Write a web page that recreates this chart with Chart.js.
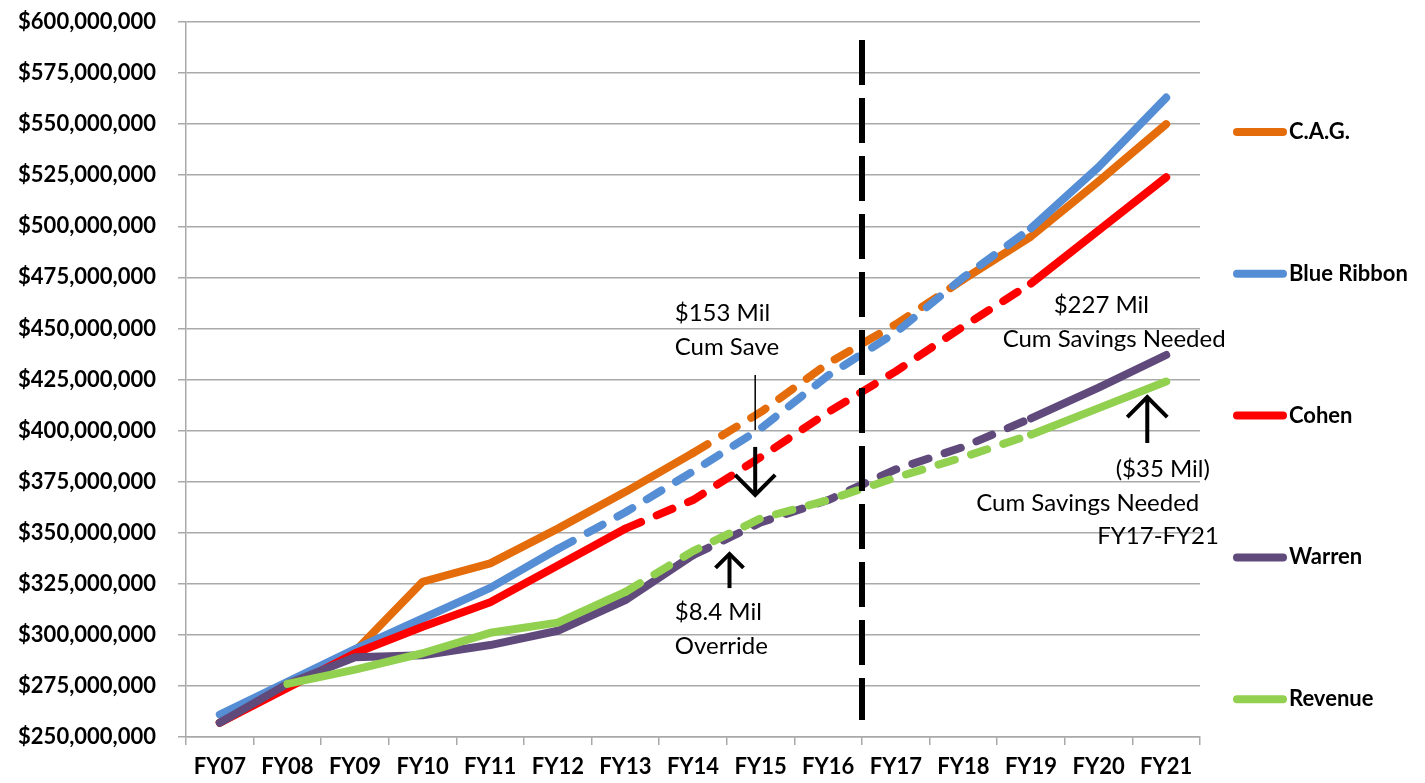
<!DOCTYPE html>
<html>
<head>
<meta charset="utf-8">
<title>Budget projections FY07-FY21</title>
<script src="https://cdn.jsdelivr.net/npm/chart.js@4.4.1/dist/chart.umd.min.js"></script>
<style>
  body { margin: 0; background: #fff; }
</style>
</head>
<body>
<canvas id="myChart" width="1425" height="783"></canvas>
<script>
// Fiscal years
const years = ['FY07', 'FY08', 'FY09', 'FY10', 'FY11', 'FY12', 'FY13', 'FY14',
               'FY15', 'FY16', 'FY17', 'FY18', 'FY19', 'FY20', 'FY21'];

// Projections, in millions of dollars
const cag        = [257, 275, 292, 326, 335, 352, 370, 389, 409, 433, 452, 474, 495, 522, 550];
const blueRibbon = [261, 277, 293, 308, 323, 342, 360, 380, 401, 427, 448, 475, 499, 529, 563];
const cohen      = [257, 274, 291, 304, 316, 334, 352, 366, 387, 409, 429, 451, 472, 498, 524];
const warren     = [257, 276, 289, 290, 295, 302, 317, 339, 355, 366, 381, 392, 406, 421, 437];
const revenue    = [null, 276, 283, 291, 301, 306, 321, 341, 357, 366, 377, 387, 398, 411, 424];

// dashed part of each line: first and last segment index (segment i goes from point i to i+1)
const cagDashed        = [7, 10];
const blueRibbonDashed = [5, 11];
const cohenDashed      = [6, 11];
const warrenDashed     = [7, 11];
const revenueDashed    = [6, 11];

// y axis tick range, in millions
const yMin = 250, yMax = 600, yStep = 25;

const series = [
  { label: 'C.A.G.',      data: cag,        dashed: cagDashed,        color: '#E46C0A' },
  { label: 'Blue Ribbon', data: blueRibbon, dashed: blueRibbonDashed, color: '#558ED5' },
  { label: 'Cohen',       data: cohen,      dashed: cohenDashed,      color: '#FF0000' },
  { label: 'Warren',      data: warren,     dashed: warrenDashed,     color: '#604A7B' },
  { label: 'Revenue',     data: revenue,    dashed: revenueDashed,    color: '#92D050' }
];

// notes on the chart: x is a (fractional) year index, y in millions
const notes = [
  { text: '$153 Mil',           x: 6.73,  y: 457.5, align: 'left' },
  { text: 'Cum Save',           x: 6.73,  y: 440.9, align: 'left' },
  { text: '$8.4 Mil',           x: 6.73,  y: 311.2, align: 'left' },
  { text: 'Override',           x: 6.73,  y: 294.6, align: 'left' },
  { text: '$227 Mil',           x: 13.04, y: 461.5, align: 'center' },
  { text: 'Cum Savings Needed', x: 13.23, y: 444.8, align: 'center' },
  { text: '($35 Mil)',          x: 13.95, y: 381.2, align: 'center' },
  { text: 'Cum Savings Needed', x: 12.84, y: 364.5, align: 'center' },
  { text: 'FY17-FY21',          x: 13.88, y: 348.4, align: 'center' }
];

// arrows: x index, from / to in millions, head at "to"
const arrows = [
  { x: 7.92, from: 427.2, to: 400.3, width: 1.5, head: 0 },
  { x: 7.92, from: 392,   to: 368.5, width: 4,   head: 20 },
  { x: 7.54, from: 322.9, to: 339.6, width: 4,   head: 14 },
  { x: 13.72, from: 393.9, to: 416.4, width: 4,  head: 20 }
];

// projection boundary between FY16 and FY17
const boundary = { x: 9.5, from: 258.3, to: 591.2 };

const gridColor = '#A9A9A9';
const fontFamily = 'Lato, "Open Sans", sans-serif';

Chart.defaults.font.family = fontFamily;
Chart.defaults.color = '#000';

const datasets = series.map((s, i) => ({
  label: s.label,
  data: s.data.map(v => v === null ? null : v * 1e6),
  borderColor: s.color,
  backgroundColor: s.color,
  order: series.length - i,
  segment: {
    borderDash: ctx => (ctx.p0DataIndex >= s.dashed[0] && ctx.p0DataIndex <= s.dashed[1]) ? [17, 17] : undefined
  }
}));

const overlay = {
  id: 'overlay',
  afterDatasetsDraw(chart) {
    const c = chart.ctx;
    const xs = chart.scales.x, ys = chart.scales.y;
    const yp = v => ys.getPixelForValue(v * 1e6);
    c.save();

    // dashed boundary line
    c.strokeStyle = '#000';
    c.lineWidth = 6;
    c.setLineDash([45, 13]);
    c.beginPath();
    c.moveTo(xs.getPixelForValue(boundary.x), yp(boundary.to));
    c.lineTo(xs.getPixelForValue(boundary.x), yp(boundary.from));
    c.stroke();
    c.setLineDash([]);

    // arrows
    arrows.forEach(a => {
      const x = xs.getPixelForValue(a.x);
      const y0 = yp(a.from), y1 = yp(a.to);
      c.lineWidth = a.width;
      c.beginPath();
      c.moveTo(x, y0);
      c.lineTo(x, y1);
      c.stroke();
      if (a.head) {
        const dir = y1 > y0 ? -1 : 1;
        c.beginPath();
        c.moveTo(x - a.head, y1 + dir * a.head);
        c.lineTo(x, y1);
        c.lineTo(x + a.head, y1 + dir * a.head);
        c.stroke();
      }
    });

    // text notes
    c.fillStyle = '#000';
    c.font = '24px ' + fontFamily;
    c.textBaseline = 'middle';
    notes.forEach(n => {
      c.textAlign = n.align;
      c.fillText(n.text, xs.getPixelForValue(n.x), yp(n.y));
    });

    // legend on the right
    c.font = 'bold 22px ' + fontFamily;
    c.textAlign = 'left';
    c.lineCap = 'round';
    series.forEach((s, i) => {
      const y = 132 + i * 141.8;
      c.strokeStyle = s.color;
      c.lineWidth = 8;
      c.beginPath();
      c.moveTo(1237, y);
      c.lineTo(1283, y);
      c.stroke();
      c.fillText(s.label, 1289, y);
    });
    c.restore();
  }
};

const ctx = document.getElementById('myChart').getContext('2d');
const myChart = new Chart(ctx, {
  type: 'line',
  data: { labels: years, datasets: datasets },
  options: {
    responsive: false,
    animation: false,
    layout: { padding: { top: 22, right: 225, left: 0, bottom: 0 } },
    plugins: { legend: { display: false }, tooltip: { enabled: false } },
    elements: {
      point: { radius: 0 },
      line: { borderWidth: 8, borderCapStyle: 'round', borderJoinStyle: 'round', tension: 0 }
    },
    scales: {
      x: {
        offset: true,
        grid: { offset: true, drawOnChartArea: false, tickLength: 8, color: gridColor, lineWidth: 1.5 },
        border: { color: gridColor, width: 1.5 },
        ticks: { font: { size: 22, weight: 'bold' }, padding: 9, maxRotation: 0, autoSkip: false },
        afterFit: s => { s.height = 46; }
      },
      y: {
        min: yMin * 1e6,
        max: yMax * 1e6,
        grid: { tickLength: 8, color: gridColor, lineWidth: 1.5 },
        border: { color: gridColor, width: 1.5 },
        ticks: {
          stepSize: yStep * 1e6,
          font: { size: 22, weight: 'bold' },
          padding: 22,
          callback: v => '$' + v.toLocaleString('en-US')
        },
        afterFit: s => { s.width = 186; s.paddingTop = 12; s.paddingBottom = 12; }
      }
    }
  },
  plugins: [overlay]
});
</script>
</body>
</html>
